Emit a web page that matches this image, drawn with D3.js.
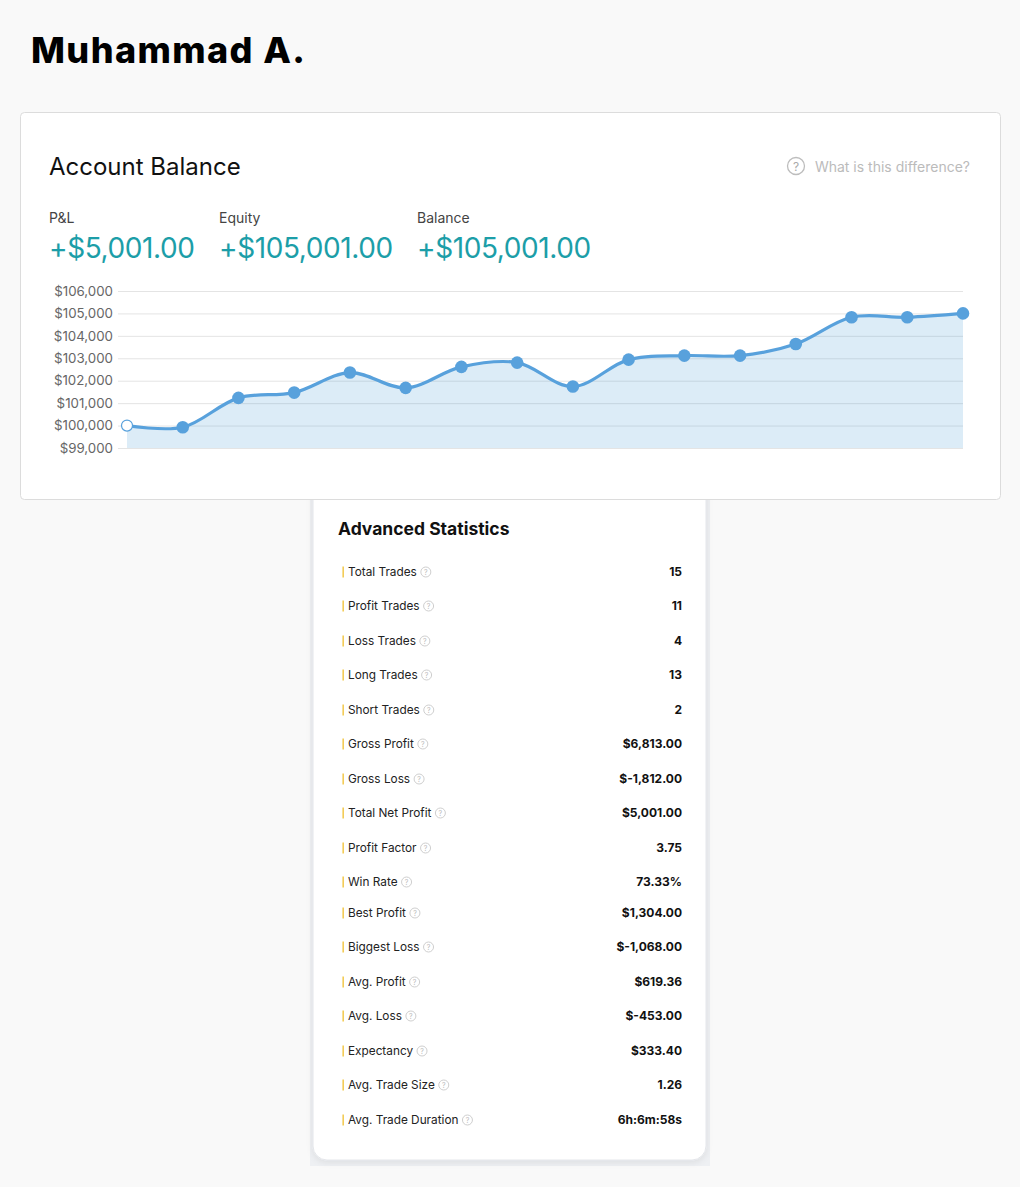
<!DOCTYPE html>
<html>
<head>
<meta charset="utf-8">
<script src="https://cdn.jsdelivr.net/npm/d3@7"></script>
<style>
  html, body { margin: 0; padding: 0; background: #f9f9f9; }
  svg { display: block; font-family: Inter, "Noto Sans", sans-serif; }
</style>
</head>
<body>
<div id="page"></div>
<script>
// --- données ---
const balance = [100000, 99925, 101235, 101471, 102363, 101680, 102617, 102808,
                 101739, 102942, 103120, 103120, 103640, 104830, 104830, 105001];
const yTicks = [99000, 100000, 101000, 102000, 103000, 104000, 105000, 106000];

const summaryLabels = ["P&L", "Equity", "Balance"];
const summaryValues = ["+$5,001.00", "+$105,001.00", "+$105,001.00"];

const statLabels = ["Total Trades", "Profit Trades", "Loss Trades", "Long Trades", "Short Trades",
  "Gross Profit", "Gross Loss", "Total Net Profit", "Profit Factor", "Win Rate", "Best Profit",
  "Biggest Loss", "Avg. Profit", "Avg. Loss", "Expectancy", "Avg. Trade Size", "Avg. Trade Duration"];
const statValues = ["15", "11", "4", "13", "2", "$6,813.00", "$-1,812.00", "$5,001.00", "3.75",
  "73.33%", "$1,304.00", "$-1,068.00", "$619.36", "$-453.00", "$333.40", "1.26", "6h:6m:58s"];

const W = 1020, H = 1187;
const svg = d3.select("#page").append("svg")
  .attr("width", W).attr("height", H);

const defs = svg.append("defs");
const sh = defs.append("filter").attr("id", "shadow")
  .attr("x", "-10%").attr("y", "-10%").attr("width", "120%").attr("height", "120%");
sh.append("feDropShadow").attr("dx", 0).attr("dy", 2).attr("stdDeviation", 3)
  .attr("flood-color", "#000").attr("flood-opacity", 0.08);

// Titre
svg.append("text")
  .attr("x", 31).attr("y", 63)
  .attr("font-size", 36).attr("font-weight", 800)
  .attr("letter-spacing", "1.4px")
  .attr("fill", "#000")
  .text("Muhammad A.");

// --- CARTE 2 : statistiques (dessinée avant pour passer sous la carte 1) ---
svg.append("rect").attr("x", 310).attr("y", 490).attr("width", 400).attr("height", 676)
  .attr("fill", "#eef0f3");
svg.append("rect").attr("x", 313).attr("y", 470).attr("width", 393).attr("height", 690)
  .attr("rx", 14).attr("fill", "#fff").attr("stroke", "#e4e6ea")
  .attr("filter", "url(#shadow)");

// --- CARTE 1 : solde ---
svg.append("rect").attr("x", 20.5).attr("y", 112.5).attr("width", 980).attr("height", 387)
  .attr("rx", 4).attr("fill", "#fff").attr("stroke", "#dcdcdc");

svg.append("text").attr("x", 49).attr("y", 175)
  .attr("font-size", 24).attr("fill", "#111").text("Account Balance");

svg.append("circle").attr("cx", 796).attr("cy", 166).attr("r", 8.5)
  .attr("fill", "none").attr("stroke", "#bdbdbd").attr("stroke-width", 1.3);
svg.append("text").attr("x", 796).attr("y", 171).attr("text-anchor", "middle")
  .attr("font-size", 12).attr("fill", "#aaa").text("?");
svg.append("text").attr("x", 970).attr("y", 172).attr("text-anchor", "end")
  .attr("font-size", 14).attr("fill", "#bbb").text("What is this difference?");

const sumX = [49, 219, 417];
const summary = svg.append("g").selectAll("g").data(summaryLabels).join("g")
  .attr("transform", (d, i) => `translate(${sumX[i]},0)`);
summary.append("text").attr("y", 223).attr("font-size", 14).attr("fill", "#444")
  .text(d => d);
summary.append("text").attr("y", 258).attr("font-size", 28).attr("fill", "#1c9ea8")
  .attr("letter-spacing", "-0.4px")
  .text((d, i) => summaryValues[i]);

// Graphique
const x = d3.scaleLinear().domain([0, balance.length - 1]).range([127, 963]);
const y = d3.scaleLinear().domain([99000, 106000]).range([448, 291]);

const grid = svg.append("g")
  .attr("transform", "translate(118,0)")
  .call(d3.axisLeft(y).tickValues(yTicks).tickSize(-845).tickPadding(5)
    .tickFormat(d => "$" + d3.format(",")(d)));
grid.select(".domain").remove();
grid.selectAll(".tick line").attr("stroke", "#e4e4e4");
grid.selectAll(".tick text").attr("font-size", 13.3).attr("fill", "#666")
  .attr("font-family", "Inter, sans-serif");

const curve = d3.curveCatmullRom.alpha(0.5);
const area = d3.area()
  .x((d, i) => x(i)).y0(y(99000)).y1(d => y(d)).curve(curve);
const line = d3.line()
  .x((d, i) => x(i)).y(d => y(d)).curve(curve);

svg.append("path").datum(balance)
  .attr("fill", "rgba(82,160,215,0.2)").attr("d", area);
svg.append("path").datum(balance)
  .attr("fill", "none").attr("stroke", "#58a1dc").attr("stroke-width", 3.2)
  .attr("d", line);

svg.append("g").selectAll("circle").data(balance).join("circle")
  .attr("cx", (d, i) => x(i)).attr("cy", d => y(d))
  .attr("r", (d, i) => i === 0 ? 5.5 : 6.3)
  .attr("fill", (d, i) => i === 0 ? "#fff" : "#58a1dc")
  .attr("stroke", "#58a1dc").attr("stroke-width", (d, i) => i === 0 ? 1.2 : 0);

// --- statistiques ---
svg.append("text").attr("x", 338).attr("y", 535)
  .attr("font-size", 17.5).attr("font-weight", 700).attr("fill", "#111")
  .text("Advanced Statistics");

const rowY = [572, 606, 641, 675, 710, 744, 779, 813, 848, 882, 913, 947, 982, 1016, 1051, 1085, 1120];
const rows = svg.append("g").selectAll("g").data(statLabels).join("g")
  .attr("transform", (d, i) => `translate(0,${rowY[i]})`);
rows.append("rect").attr("x", 342.5).attr("y", -5.5).attr("width", 1.3).attr("height", 11)
  .attr("fill", "#f0c030");
rows.append("text").attr("x", 348).attr("y", 4.3)
  .attr("font-size", 11.8).attr("fill", "#222").text(d => d)
  .each(function() {
    const w = this.getComputedTextLength();
    const g = d3.select(this.parentNode);
    g.append("circle").attr("cx", 348 + w + 9).attr("cy", 0).attr("r", 5)
      .attr("fill", "none").attr("stroke", "#c8c8c8").attr("stroke-width", 0.9);
    g.append("text").attr("x", 348 + w + 9).attr("y", 2.6).attr("text-anchor", "middle")
      .attr("font-size", 7).attr("fill", "#bbb").text("?");
  });
rows.append("text").attr("x", 682).attr("y", 4.3).attr("text-anchor", "end")
  .attr("font-size", 12).attr("font-weight", 700).attr("fill", "#111")
  .text((d, i) => statValues[i]);
</script>
</body>
</html>
